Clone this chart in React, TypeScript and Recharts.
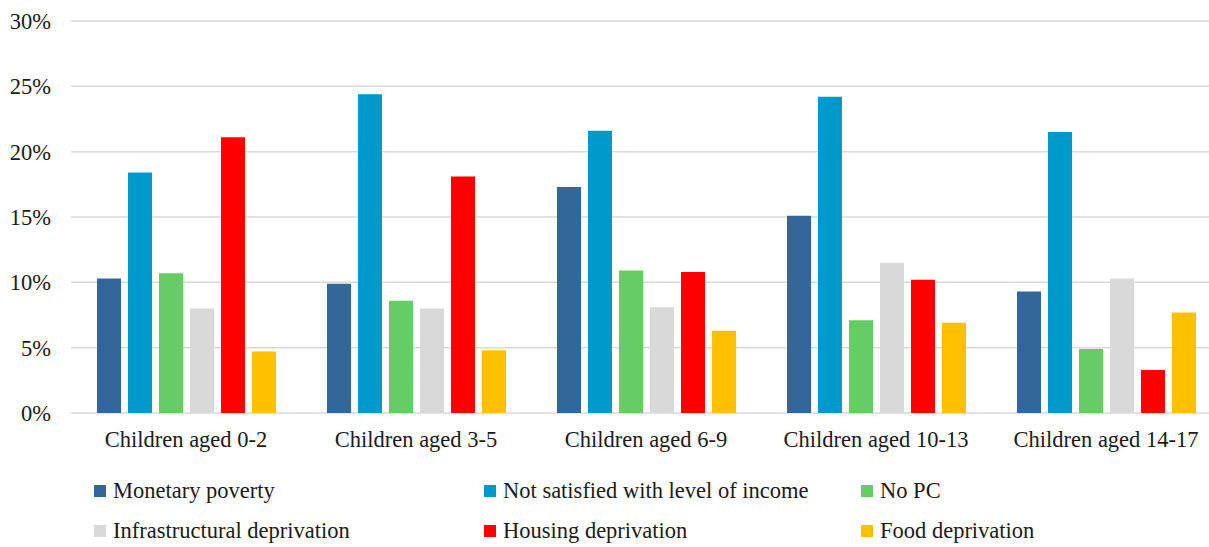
import React from 'react';
import { BarChart, Bar, XAxis, YAxis, CartesianGrid } from 'recharts';

const categories = ['Children aged 0-2', 'Children aged 3-5', 'Children aged 6-9', 'Children aged 10-13', 'Children aged 14-17'];

const monetaryPoverty = [10.3, 9.9, 17.3, 15.1, 9.3];
const notSatisfied = [18.4, 24.4, 21.6, 24.2, 21.5];
const noPC = [10.7, 8.6, 10.9, 7.1, 4.9];
const infrastructural = [8.0, 8.0, 8.1, 11.5, 10.3];
const housing = [21.1, 18.1, 10.8, 10.2, 3.3];
const food = [4.7, 4.8, 6.3, 6.9, 7.7];

const yTicks = [0, 5, 10, 15, 20, 25, 30];

const series = [
  { key: 'monetary', name: 'Monetary poverty', color: '#336699', values: monetaryPoverty },
  { key: 'notSatisfied', name: 'Not satisfied with level of income', color: '#0099CC', values: notSatisfied },
  { key: 'noPC', name: 'No PC', color: '#66CC66', values: noPC },
  { key: 'infra', name: 'Infrastructural deprivation', color: '#D9D9D9', values: infrastructural },
  { key: 'housing', name: 'Housing deprivation', color: '#FF0000', values: housing },
  { key: 'food', name: 'Food deprivation', color: '#FFC000', values: food },
];

const data = categories.map((cat, i) => {
  const row: Record<string, string | number> = { name: cat };
  series.forEach((s) => {
    row[s.key] = s.values[i];
  });
  return row;
});

const FONT = 'Liberation Serif, serif';
const TEXT = '#1a1a1a';
const FS = 22.5;

// legend laid out like the Excel original: 3 columns, 2 rows
const legendCols = [94, 484, 861];
const legendRows = [491, 531];

const App: React.FC = () => {
  return (
    <div style={{ position: 'absolute', left: 0, top: 0, width: 1209, height: 547, background: '#fff', fontFamily: FONT, overflow: 'hidden' }}>
      <BarChart
        width={1209}
        height={547}
        data={data}
        margin={{ top: 21, right: -12, left: 0, bottom: 94 }}
        barSize={24}
        barGap={7}
      >
        <CartesianGrid vertical={false} stroke="#d9d9d9" strokeWidth={1.5} />
        <XAxis
          dataKey="name"
          axisLine={false}
          tickLine={false}
          height={40}
          tickMargin={12}
          tick={{ fill: TEXT, fontSize: FS, fontFamily: FONT }}
          interval={0}
        />
        <YAxis
          domain={[0, 30]}
          ticks={yTicks}
          width={71}
          axisLine={false}
          tickLine={false}
          tickMargin={14}
          tickFormatter={(v: number) => `${v}%`}
          tick={{ fill: TEXT, fontSize: FS, fontFamily: FONT }}
        />
        {series.map((s) => (
          <Bar key={s.key} dataKey={s.key} name={s.name} fill={s.color} isAnimationActive={false} />
        ))}
      </BarChart>

      {series.map((s, i) => {
        const left = legendCols[i % 3];
        const cy = legendRows[Math.floor(i / 3)];
        return (
          <div
            key={s.key}
            style={{
              position: 'absolute',
              left,
              top: cy - 14,
              height: 28,
              display: 'flex',
              alignItems: 'center',
              whiteSpace: 'nowrap',
              fontFamily: FONT,
            }}
          >
            <span style={{ display: 'inline-block', width: 12, height: 12, background: s.color, marginRight: 7 }} />
            <span style={{ fontSize: FS, color: TEXT, lineHeight: '28px', fontFamily: FONT }}>{s.name}</span>
          </div>
        );
      })}
    </div>
  );
};

export default App;
